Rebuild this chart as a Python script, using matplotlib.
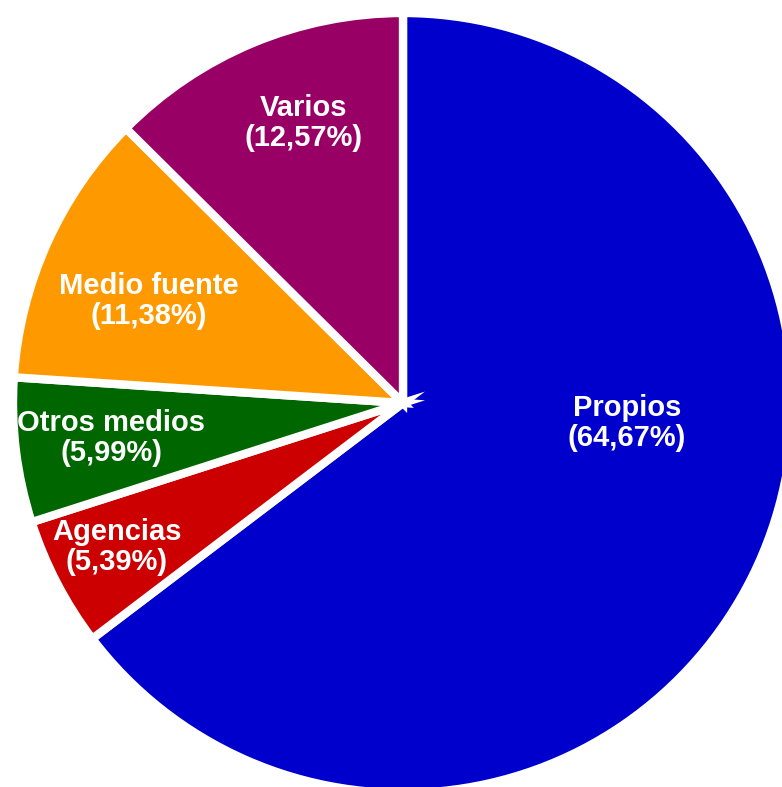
import matplotlib
matplotlib.use("Agg")
import matplotlib.pyplot as plt

# reparto de fuentes (%)
categorias = ["Propios", "Agencias", "Otros medios", "Medio fuente", "Varios"]
porcentajes = [64.67, 5.39, 5.99, 11.38, 12.57]
colores = ["#0000CC", "#CC0000", "#006600", "#FF9900", "#990066"]

# posicion de cada etiqueta respecto al centro (px)
pos_etiquetas = [(224, -20), (-286, -144), (-292, -35), (-254, 102), (-99, 280)]

plt.rcParams['font.family'] = ['Liberation Sans', 'DejaVu Sans']

fig = plt.figure(figsize=(7.82, 7.87), dpi=100)
ax = fig.add_axes([0, 0, 1, 1])

ax.pie(porcentajes, colors=colores, startangle=90, counterclock=False,
       radius=390, center=(0, 0), frame=True,
       wedgeprops=dict(edgecolor="white", linewidth=6))

for nombre, valor, (x, y) in zip(categorias, porcentajes, pos_etiquetas):
    txt = "%s\n(%s%%)" % (nombre, ("%.2f" % valor).replace(".", ","))
    ax.text(x, y, txt, ha="center", va="center", color="white",
            fontsize=21, fontweight="bold", linespacing=1.1)

ax.set_xlim(-403, 379)
ax.set_ylim(-384, 403)
ax.set_aspect("equal")
ax.axis("off")

fig.savefig("out.png", dpi=100, facecolor="white")
